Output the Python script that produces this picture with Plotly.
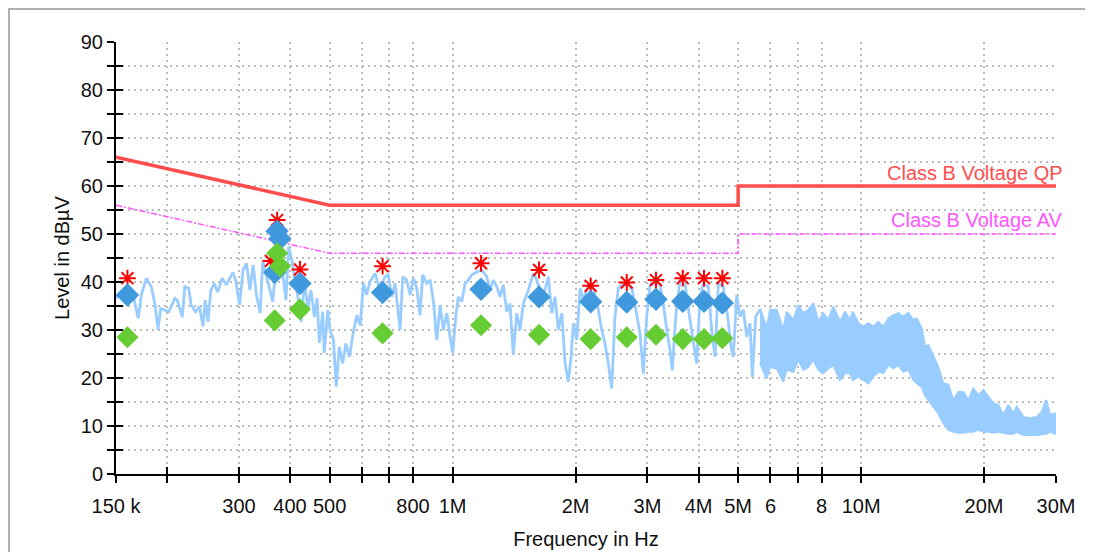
import plotly.graph_objects as go

# ---------------- data (frequency in MHz, level in dBµV) ----------------
spec_f = [0.150, 0.154, 0.159, 0.165, 0.170, 0.173, 0.178, 0.183, 0.187, 0.190, 0.193, 0.197, 0.202, 0.209,
          0.212, 0.218, 0.221, 0.226, 0.229, 0.235, 0.240, 0.245, 0.248, 0.252, 0.256, 0.261, 0.266, 0.273,
          0.279, 0.290, 0.295, 0.301, 0.307, 0.313, 0.319, 0.325, 0.331, 0.338, 0.343, 0.349, 0.357, 0.363,
          0.370, 0.378, 0.384, 0.391, 0.397, 0.405, 0.410, 0.418, 0.426, 0.434, 0.442, 0.450, 0.459, 0.466,
          0.472, 0.481, 0.485, 0.495,
          0.501, 0.511, 0.519, 0.528, 0.538, 0.548, 0.559, 0.571, 0.583, 0.594, 0.605, 0.616, 0.628, 0.646,
          0.664, 0.683, 0.696, 0.710, 0.723, 0.744, 0.755, 0.772, 0.787, 0.802, 0.817, 0.832, 0.845, 0.864,
          0.881, 0.897, 0.915, 0.932, 0.949, 0.968, 0.986, 1.001, 1.020, 1.033, 1.053, 1.073, 1.093, 1.114,
          1.146, 1.178, 1.212, 1.235, 1.258, 1.283, 1.307, 1.331, 1.357, 1.382, 1.408, 1.436, 1.463, 1.490,
          1.533, 1.577, 1.607, 1.653,
          1.683, 1.716, 1.749, 1.782, 1.815, 1.851, 1.885, 1.920, 1.950, 1.976, 2.013, 2.052, 2.090, 2.149,
          2.211, 2.274, 2.318, 2.361, 2.406, 2.452, 2.498, 2.545, 2.618, 2.692, 2.754, 2.823, 2.876, 2.931,
          2.987, 3.043, 3.131, 3.219, 3.280, 3.344, 3.407, 3.450, 3.517, 3.605, 3.707, 3.791, 3.885, 3.960,
          4.034, 4.109, 4.227, 4.308, 4.389, 4.472, 4.600, 4.715, 4.804, 4.866, 4.960, 5.054, 5.149, 5.249,
          5.347, 5.417, 5.521, 5.658]
spec_l = [36.6, 37.9, 39.0, 37.6, 32.4, 37.3, 40.8, 39.0, 35.2, 30.1, 34.5, 34.2, 33.8, 36.6,
          36.2, 32.7, 39.0, 38.7, 35.2, 33.8, 34.9, 30.8, 36.2, 31.7, 38.3, 39.7, 37.9, 40.8,
          39.4, 42.0, 40.1, 35.2, 42.5, 43.9, 38.3, 43.5, 37.3, 33.5, 44.2, 41.8, 38.3, 35.9,
          43.9, 41.1, 41.8, 36.2, 47.4, 44.2, 41.1, 36.9, 31.7, 40.4, 34.5, 38.3, 32.7, 36.6,
          27.3, 33.8, 25.2, 34.2,
          30.0, 27.9, 18.2, 26.5, 23.0, 27.2, 24.4, 29.3, 33.1, 31.0, 39.7, 37.3, 40.1, 41.8,
          38.3, 41.1, 41.5, 36.9, 39.7, 30.0, 41.1, 40.4, 37.3, 40.8, 38.7, 33.1, 41.5, 39.7,
          40.4, 36.2, 27.9, 35.2, 30.0, 33.5, 28.6, 25.2, 33.5, 36.9, 35.9, 39.7, 40.4, 41.5,
          42.1, 42.5, 41.1, 38.3, 40.4, 39.0, 36.9, 39.4, 33.8, 35.5, 24.8, 33.5, 30.0, 35.5,
          38.3, 41.8, 40.4, 36.9,
          38.3, 41.1, 33.5, 36.9, 30.0, 33.5, 23.0, 19.2, 24.4, 31.4, 27.9, 38.7, 36.2, 39.4,
          38.7, 34.2, 30.0, 27.2, 23.0, 17.8, 32.8, 38.7, 39.7, 39.4, 38.3, 33.5, 29.3, 20.9,
          32.8, 39.4, 39.7, 39.4, 35.5, 30.0, 25.8, 21.6, 32.8, 40.4, 39.7, 33.5, 27.9, 23.0,
          36.9, 39.7, 39.0, 30.0, 24.4, 39.7, 39.0, 32.8, 26.5, 24.4, 37.3, 32.8, 34.2, 28.6,
          31.4, 20.2, 32.8, 34.2]

# dense high-frequency part of the scan: upper and lower envelope
band_f = [5.658, 5.875, 5.986, 6.216, 6.450, 6.575, 6.825, 7.020, 7.221, 7.427, 7.640, 7.858, 8.082, 8.313,
          8.550, 8.879, 9.133, 9.394, 9.539, 9.847, 10.13, 10.42, 10.71, 11.02, 11.34, 11.66, 11.99, 12.34,
          12.69, 13.05, 13.42, 13.68, 14.07, 14.34, 14.61, 15.03, 15.45, 15.90, 16.35, 16.82, 17.30, 17.79,
          18.30, 18.83, 19.37, 19.92, 20.49, 21.07, 21.67, 22.29, 22.93, 23.59, 24.05, 24.96, 25.92, 26.92,
          27.69, 28.36, 29.01, 29.85, 30.0]
band_top = [34.5, 30.4, 34.2, 34.2, 30.0, 33.8, 32.1, 35.2, 33.5, 34.2, 35.6, 31.7, 33.5, 32.1,
            34.9, 31.7, 33.8, 32.1, 33.8, 31.4, 30.7, 31.4, 30.7, 31.7, 30.7, 32.4, 33.1, 33.5,
            32.8, 33.5, 32.1, 32.4, 30.4, 26.5, 26.9, 24.4, 22.3, 18.9, 18.6, 15.4, 17.1, 17.1,
            15.4, 17.8, 16.4, 17.5, 16.0, 14.7, 14.4, 12.3, 14.4, 12.6, 14.0, 11.9, 11.6, 11.9,
            13.0, 15.4, 12.3, 12.6, 10.6]
band_bot = [23.1, 19.9, 22.3, 22.0, 19.2, 21.7, 21.3, 23.8, 21.7, 22.3, 23.8, 21.7, 21.0, 22.0,
            22.7, 19.6, 21.0, 21.0, 19.6, 20.3, 19.6, 18.9, 20.3, 21.3, 21.0, 22.7, 22.0, 22.7,
            21.3, 21.7, 19.6, 18.9, 18.2, 16.4, 15.4, 14.0, 12.6, 10.6, 9.2, 8.8, 8.6, 8.6,
            8.8, 8.8, 9.2, 8.8, 8.8, 8.6, 8.8, 8.6, 8.4, 8.4, 8.8, 8.1, 8.1, 8.1,
            8.3, 8.4, 8.8, 8.4, 8.8]

# limit lines
qp_lim_f = [0.15, 0.5, 5.0, 5.0, 30.0]
qp_lim_l = [66, 56, 56, 60, 60]
av_lim_f = [0.15, 0.5, 5.0, 5.0, 30.0]
av_lim_l = [56, 46, 46, 50, 50]

# peak markers (stars), final QP (blue), final AV (green)
star_f = [0.160, 0.359, 0.372, 0.423, 0.674, 1.174, 1.628, 2.178, 2.669, 3.147, 3.660, 4.125, 4.575]
star_l = [40.8, 44.4, 52.9, 42.6, 43.3, 43.9, 42.5, 39.2, 39.9, 40.4, 40.8, 40.8, 40.8]
qp_f = [0.160, 0.367, 0.372, 0.378, 0.423, 0.674, 1.174, 1.628, 2.178, 2.669, 3.147, 3.660, 4.125, 4.575]
qp_l = [37.3, 42.0, 50.6, 49.0, 39.7, 37.8, 38.5, 36.9, 35.9, 35.8, 36.4, 36.0, 36.0, 35.6]
av_f = [0.160, 0.367, 0.372, 0.378, 0.423, 0.674, 1.174, 1.628, 2.178, 2.669, 3.147, 3.660, 4.125, 4.575]
av_l = [28.5, 32.0, 46.0, 43.3, 34.3, 29.3, 31.0, 29.0, 28.1, 28.5, 29.0, 28.1, 28.1, 28.3]

xtick_vals = [0.15, 0.2, 0.3, 0.4, 0.5, 0.6, 0.7, 0.8, 1, 2, 3, 4, 5, 6, 7, 8, 10, 20, 30]
xtick_text = ["150 k", "", "300", "400", "500", "", "", "800", "1M", "2M", "3M", "4M", "5M", "6", "", "8",
              "10M", "20M", "30M"]
ytick_vals = list(range(0, 95, 5))
ytick_text = [str(v) if v % 10 == 0 else "" for v in ytick_vals]

QP_LABEL = "Class B Voltage QP"
AV_LABEL = "Class B Voltage AV"

# ---------------- styling ----------------
FONT = "Liberation Sans"
SPEC_COL = "#99ccff"
QP_COL = "#ff4d4d"
AV_COL = "#ff55ff"
GRID = dict(showgrid=True, gridcolor="#bcbcbc", gridwidth=2, griddash="2px,4px")

fig = go.Figure()

fig.add_trace(go.Scatter(x=band_f, y=band_bot, mode="lines", line=dict(color=SPEC_COL, width=2),
                         hoverinfo="skip", showlegend=False))
fig.add_trace(go.Scatter(x=band_f, y=band_top, mode="lines", line=dict(color=SPEC_COL, width=2),
                         fill="tonexty", fillcolor=SPEC_COL, hoverinfo="skip", showlegend=False))
fig.add_trace(go.Scatter(x=spec_f, y=spec_l, mode="lines", line=dict(color=SPEC_COL, width=2.8),
                         showlegend=False))
fig.add_trace(go.Scatter(x=qp_lim_f, y=qp_lim_l, mode="lines", line=dict(color=QP_COL, width=3.5),
                         showlegend=False))
fig.add_trace(go.Scatter(x=av_lim_f, y=av_lim_l, mode="lines",
                         line=dict(color=AV_COL, width=1.5, dash="6px,2px,2px,2px"), showlegend=False))
fig.add_trace(go.Scatter(x=star_f, y=star_l, mode="markers",
                         marker=dict(symbol="asterisk-open", size=14, color="#ff0000",
                                     line=dict(color="#ff0000", width=2)), showlegend=False))
fig.add_trace(go.Scatter(x=qp_f, y=qp_l, mode="markers",
                         marker=dict(symbol="diamond", size=18, color="#4199dd"), showlegend=False))
fig.add_trace(go.Scatter(x=av_f, y=av_l, mode="markers",
                         marker=dict(symbol="diamond", size=17, color="#66cc33"), showlegend=False))
# overlay axes only to draw the inner half of the crossing ticks
fig.add_trace(go.Scatter(x=[0.15], y=[0], xaxis="x2", yaxis="y2", mode="markers",
                         marker=dict(opacity=0), hoverinfo="skip", showlegend=False))

tick_font = dict(family=FONT, size=20, color="#111111")
fig.update_layout(
    width=1093, height=552,
    margin=dict(l=108, r=45, t=34, b=86),
    paper_bgcolor="white", plot_bgcolor="white",
    font=dict(family=FONT, size=20, color="#111111"),
    xaxis=dict(type="log", range=[-0.8239, 1.4771], tickmode="array", tickvals=xtick_vals,
               ticktext=xtick_text, ticks="outside", ticklen=7, tickwidth=2, tickcolor="black",
               ticklabelstandoff=6,
               showline=True, linecolor="black", linewidth=2, zeroline=False, tickfont=tick_font,
               title=dict(text="Frequency in Hz", font=dict(family=FONT, size=20), standoff=16),
               automargin=False, **GRID),
    yaxis=dict(range=[0, 90], tickmode="array", tickvals=ytick_vals, ticktext=ytick_text,
               ticks="outside", ticklen=7, tickwidth=2, tickcolor="black",
               showline=True, linecolor="black", linewidth=2, zeroline=False, tickfont=tick_font,
               title=dict(text="Level in dBµV", font=dict(family=FONT, size=20), standoff=6),
               automargin=False, **GRID),
    xaxis2=dict(type="log", range=[-0.8239, 1.4771], overlaying="x", tickmode="array",
                tickvals=xtick_vals, ticks="inside", ticklen=7, tickwidth=2, tickcolor="black",
                showticklabels=False, showgrid=False, showline=False, zeroline=False),
    yaxis2=dict(range=[0, 90], overlaying="y", tickmode="array", tickvals=ytick_vals,
                ticks="inside", ticklen=7, tickwidth=2, tickcolor="black",
                showticklabels=False, showgrid=False, showline=False, zeroline=False),
    annotations=[
        dict(text=QP_LABEL, x=1.010, xref="paper", y=62.7, yref="y", xanchor="right",
             yanchor="middle", showarrow=False, font=dict(family=FONT, size=20, color=QP_COL)),
        dict(text=AV_LABEL, x=1.010, xref="paper", y=52.9, yref="y", xanchor="right",
             yanchor="middle", showarrow=False, font=dict(family=FONT, size=20, color=AV_COL)),
    ],
    shapes=[dict(type="rect", xref="paper", yref="paper", x0=-0.1138, x1=1.0351, y0=-0.3, y1=1.0764,
                 line=dict(color="#b0b0b0", width=2), fillcolor="rgba(0,0,0,0)", layer="above")],
)

fig.write_html("out.html")
